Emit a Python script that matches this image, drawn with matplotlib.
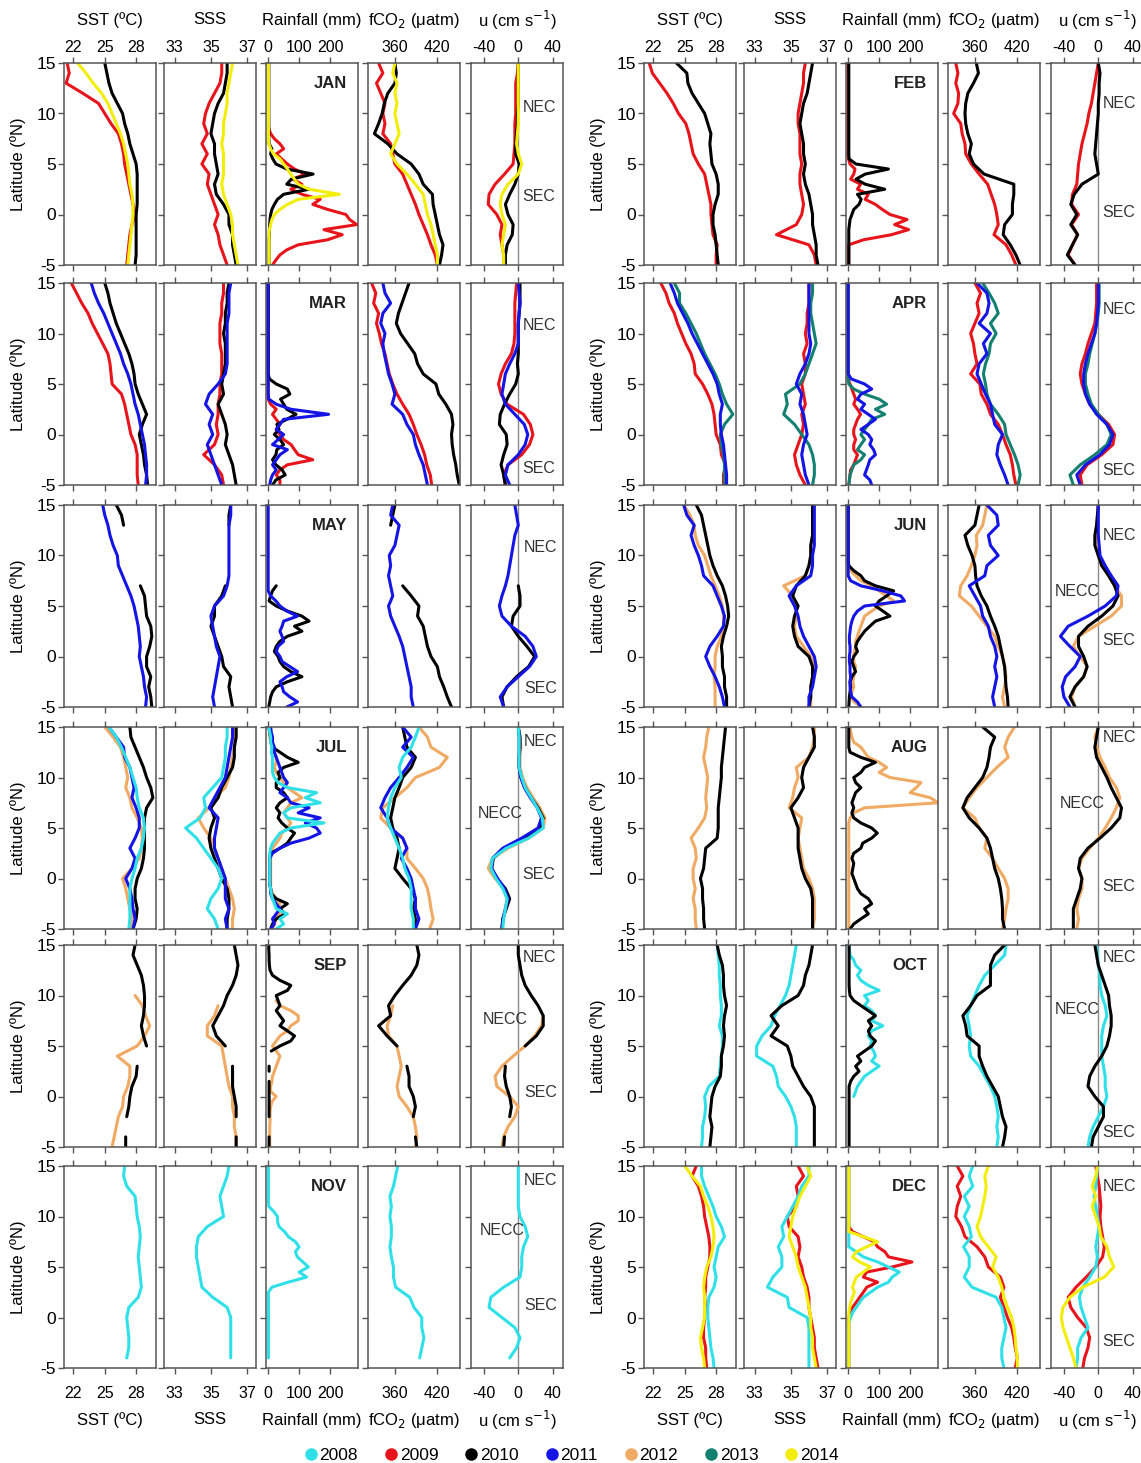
import matplotlib.pyplot as plt
from matplotlib.lines import Line2D

plt.rcParams['font.family'] = ['Liberation Sans', 'DejaVu Sans']
plt.rcParams['axes.unicode_minus'] = False

nan = float('nan')

# sampling latitudes (deg N) of the monthly ship-track profiles
lat = [-5, -4, -3, -2, -1, 0, 1, 2, 3, 4, 5, 6, 7, 8, 9, 10, 11, 12, 13, 14, 15]
lat_rain = [-5, -4.5, -4, -3.5, -3, -2.5, -2, -1.5, -1, -0.5,
            0, 0.5, 1, 1.5, 2, 2.5, 3, 3.5, 4, 4.5,
            5, 5.5, 6, 6.5, 7, 7.5, 8, 8.5, 9, 9.5,
            10, 10.5, 11, 11.5, 12, 12.5, 13, 13.5, 14, 14.5, 15]

years = [2008, 2009, 2010, 2011, 2012, 2013, 2014]
year_colors = {2008: '#30e0e8', 2009: '#e8141c', 2010: '#000000', 2011: '#1414e6',
               2012: '#f0aa64', 2013: '#148070', 2014: '#f2ee0a'}

# ---------------- JAN ----------------
jan_sst = {2009: [27.1, 27.2, 27.3, 27.4, 27.6, 27.9, 27.7, 27.5, 27.3, 27.1, 26.9, 26.8, 26.6, 26.3, 25.6, 25.0, 24.4, 22.9, 21.3, 21.6, 21.4],
           2010: [27.9, 28.0, 28.0, 28.0, 28.0, 28.0, 28.1, 28.1, 28.1, 28.1, 28.0, 27.7, 27.4, 27.2, 26.9, 26.7, 26.2, 25.7, 25.4, 25.2, 25.0],
           2014: [27.2, 27.3, 27.4, 27.5, 27.6, 27.7, 27.7, 27.6, 27.4, 27.3, 27.2, 27.0, 26.8, 26.5, 26.1, 25.7, 25.3, 24.7, 23.9, 23.2, 22.4]}
jan_sss = {2009: [35.9, 35.7, 35.5, 35.4, 35.2, 35.4, 35.2, 35.0, 34.8, 34.9, 34.5, 34.8, 34.5, 34.8, 34.6, 34.7, 34.9, 35.2, 35.5, 35.6, 35.6],
           2010: [36.4, 36.3, 36.2, 36.2, 36.0, 36.0, 35.7, 35.3, 35.2, 35.4, 35.3, 35.2, 35.2, 35.0, 35.1, 35.2, 35.4, 35.7, 35.8, 35.9, 35.9],
           2014: [36.5, 36.4, 36.3, 36.2, 36.2, 36.1, 35.9, 35.7, 35.6, 35.7, 35.7, 35.7, 35.6, 35.7, 35.7, 35.8, 35.9, 35.9, 36.0, 36.1, 36.2]}
jan_rain = {2009: [14, 25, 38, 60, 97, 192, 239, 180, 286, 263,
                   251, 192, 144, 168, 109, 73, 109, 79, 120, 85,
                   62, 44, 26, 50, 38, 20, 8, 2, 1, 1,
                   1, 1, 1, 1, 1, 1, 1, 1, 1, 1,
                   1],
            2010: [3, 3, 3, 3, 3, 3, 4, 4, 5, 6,
                   8, 12, 20, 30, 50, 132, 60, 75, 145, 60,
                   25, 15, 8, 12, 3, 2, 2, 2, 2, 2,
                   2, 2, 2, 2, 2, 2, 2, 2, 2, 2,
                   2],
            2014: [3, 3, 3, 3, 3, 3, 3, 4, 8, 12,
                   20, 38, 62, 97, 230, 132, 97, 85, 73, 62,
                   50, 38, 17, 8, 2, 1, 1, 1, 1, 1,
                   1, 1, 1, 1, 1, 1, 1, 1, 1, 1,
                   1]}
jan_fco2 = {2009: [420, 417, 411, 406, 400, 394, 389, 383, 377, 371, 360, 357, 354, 343, 346, 343, 346, 340, 334, 343, 337],
            2010: [423, 426, 428, 423, 420, 417, 414, 413, 400, 394, 383, 363, 350, 331, 337, 342, 345, 350, 360, 362, 360],
            2014: [420, 420, 417, 414, 411, 406, 403, 400, 389, 377, 363, 354, 360, 366, 363, 360, 363, 360, 363, 357, 360]}
jan_u = {2009: [-17, -17, -19, -21, -19, -25, -35, -34, -27, -16, -6, -5, -4, -4, -4, -3, -3, -3, -3, -1, 0],
         2010: [-15, -15, -13, -7, -6, -12, -15, -10, -4, 0, 1, -3, -3, -2, -1, -1, 0, 0, 0, 0, 0],
         2014: [-17, -17, -19, -17, -15, -19, -21, -19, -12, 0, 4, 0, -2, -1, 0, 0, 0, 0, 0, 0, 0]}

# ---------------- FEB ----------------
feb_sst = {2009: [28.0, 28.0, 28.1, 27.7, 27.6, 27.5, 27.5, 27.3, 27.1, 26.9, 26.3, 25.8, 25.6, 25.4, 25.1, 24.4, 23.9, 23.3, 22.6, 21.9, 21.6],
           2010: [28.2, 28.1, 28.0, 27.9, 27.7, 27.7, 27.9, 28.2, 28.2, 28.0, 27.6, 27.5, 27.4, 27.5, 27.2, 26.9, 26.3, 25.7, 25.3, 25.2, 24.2]}
feb_sss = {2009: [36.4, 36.3, 36.0, 34.2, 35.3, 35.6, 35.7, 35.6, 35.5, 35.5, 35.6, 35.5, 35.5, 35.5, 35.4, 35.4, 35.5, 35.6, 35.7, 35.7, 35.8],
           2010: [36.5, 36.4, 36.4, 36.3, 36.2, 36.2, 36.1, 36.0, 35.8, 35.7, 35.8, 35.7, 35.7, 35.6, 35.5, 35.6, 35.7, 35.9, 36.0, 36.1, 36.2]}
feb_rain = {2009: [2, 2, 2, 2, 2, 50, 140, 195, 150, 190,
                   135, 110, 88, 55, 65, 30, 40, 8, 18, 22,
                   6, 1, 0, 0, 0, 0, 0, 0, 0, 0,
                   0, 0, 0, 0, 0, 0, 0, 0, 0, 0,
                   0],
            2010: [2, 2, 2, 2, 2, 2, 2, 2, 4, 6,
                   12, 18, 35, 42, 30, 118, 55, 25, 55, 130,
                   25, 3, 2, 2, 2, 2, 2, 2, 2, 2,
                   2, 2, 2, 2, 2, 2, 2, 2, 2, 2,
                   2]}
feb_fco2 = {2009: [418, 412, 404, 387, 393, 391, 388, 383, 378, 366, 355, 347, 346, 342, 340, 330, 336, 337, 333, 336, 333],
            2010: [424, 418, 410, 400, 402, 413, 413, 415, 415, 373, 358, 352, 355, 350, 347, 346, 347, 350, 358, 365, 362]}
feb_u = {2009: [-27, -35, -30, -24, -31, -23, -31, -30, -25, -24, -23, -21, -19, -16, -13, -11, -8, -6, -4, -2, 0],
         2010: [-27, -36, -30, -24, -32, -25, -32, -28, -19, 0, -2, -4, -3, -2, -1, 0, 0, 1, 1, 2, 0]}

# ---------------- MAR ----------------
mar_sst = {2009: [28.2, 28.1, 28.1, 28.1, 27.9, 27.5, 27.3, 27.1, 26.9, 26.6, 25.7, 25.6, 25.5, 25.3, 24.8, 24.3, 23.8, 23.4, 22.8, 22.3, 21.8],
           2010: [29.1, 29.0, 28.8, 28.7, 28.5, 28.3, 28.6, 29.0, 28.6, 28.2, 27.9, 27.8, 27.6, 27.3, 26.9, 26.5, 26.1, 25.8, 25.5, 25.3, 25.0],
           2011: [28.9, 29.0, 29.0, 28.9, 28.8, 28.6, 28.4, 28.2, 27.9, 27.7, 27.5, 27.2, 26.8, 26.5, 26.1, 25.7, 25.3, 24.9, 24.4, 24.0, 23.7]}
mar_sss = {2009: [35.7, 35.6, 35.2, 34.6, 35.2, 35.4, 35.3, 35.4, 35.4, 35.5, 35.5, 35.6, 35.6, 35.6, 35.5, 35.5, 35.5, 35.6, 35.6, 35.7, 35.7],
           2010: [36.4, 36.3, 36.2, 36.0, 35.8, 35.9, 35.8, 35.6, 35.4, 35.7, 35.6, 35.7, 35.8, 35.8, 35.8, 35.7, 35.8, 35.8, 35.9, 35.9, 36.0],
           2011: [35.6, 35.4, 35.2, 35.0, 34.8, 35.1, 34.9, 35.1, 34.7, 34.9, 35.4, 35.8, 35.9, 35.9, 35.9, 35.9, 35.9, 36.0, 36.0, 36.0, 36.1]}
mar_rain = {2009: [38, 38, 26, 38, 62, 144, 97, 85, 74, 50,
                   38, 26, 38, 26, 14, 26, 8, 0, 0, 0,
                   0, 0, 0, 0, 0, 0, 0, 0, 0, 0,
                   0, 0, 0, 0, 0, 0, 0, 0, 0, 0,
                   0],
            2010: [14, 25, 55, 45, 25, 14, 25, 28, 50, 38,
                   20, 35, 28, 60, 90, 60, 50, 40, 70, 62,
                   26, 4, 0, 0, 0, 0, 0, 0, 0, 0,
                   0, 0, 0, 0, 0, 0, 0, 0, 0, 0,
                   0],
            2011: [5, 8, 14, 26, 14, 26, 38, 62, 14, 32,
                   50, 26, 38, 50, 195, 73, 26, 2, 0, 0,
                   0, 0, 0, 0, 0, 0, 0, 0, 0, 0,
                   0, 0, 0, 0, 0, 0, 0, 0, 0, 0,
                   0]}
mar_fco2 = {2009: [412, 410, 405, 402, 397, 391, 386, 380, 371, 363, 357, 352, 349, 346, 341, 338, 334, 337, 330, 333, 327],
            2010: [451, 448, 446, 443, 441, 440, 442, 440, 432, 422, 418, 400, 392, 388, 378, 368, 362, 365, 370, 375, 380],
            2011: [406, 403, 400, 394, 389, 386, 377, 371, 356, 360, 356, 351, 348, 345, 343, 346, 340, 343, 354, 346, 343]}
mar_u = {2009: [-15, -17, -12, 4, 13, 17, 14, 6, -13, -20, -23, -20, -15, -8, -5, -4, -4, -4, -4, -3, -2],
         2010: [-15, -17, -20, -17, -13, -14, -22, -21, -16, -10, -3, 0, -1, 0, 0, 0, 0, 1, 2, 2, 2],
         2011: [-10, -15, -12, 0, 8, 11, 7, -4, -15, -19, -17, -15, -10, -4, 0, 0, 0, 1, 2, 1, 0]}

# ---------------- APR ----------------
apr_sst = {2009: [28.7, 28.7, 28.9, 28.5, 28.4, 28.0, 27.9, 27.8, 27.6, 27.2, 26.7, 26.0, 25.9, 25.6, 25.1, 24.7, 24.3, 24.0, 23.5, 23.2, 22.7],
           2013: [28.8, 28.8, 28.8, 28.7, 28.5, 28.4, 28.8, 29.6, 29.0, 28.6, 28.3, 27.9, 27.4, 26.9, 26.5, 26.1, 25.6, 25.1, 24.5, 24.5, 24.0],
           2011: [29.0, 29.0, 28.9, 28.8, 28.7, 28.5, 28.4, 28.4, 28.6, 28.3, 28.1, 27.7, 27.2, 26.7, 26.2, 25.7, 25.3, 24.8, 24.3, 24.0, 23.6]}
apr_sss = {2009: [35.8, 35.5, 35.3, 35.2, 35.4, 35.6, 35.7, 35.6, 35.8, 35.7, 35.6, 35.8, 35.8, 35.7, 35.9, 35.8, 35.9, 35.9, 36.0, 36.0, 36.0],
           2013: [36.2, 36.3, 36.3, 36.2, 36.0, 35.6, 35.2, 34.6, 34.8, 34.7, 35.5, 35.8, 36.0, 36.2, 36.4, 36.3, 36.2, 36.1, 36.1, 36.2, 36.2],
           2011: [36.0, 35.8, 35.7, 35.6, 35.7, 35.9, 35.8, 35.7, 35.5, 35.6, 35.3, 35.5, 35.8, 36.0, 36.1, 36.0, 36.0, 36.0, 36.0, 36.0, 36.0]}
apr_rain = {2009: [2, 4, 6, 8, 18, 24, 30, 18, 18, 24,
                   18, 18, 24, 30, 40, 30, 18, 24, 18, 12,
                   6, 0, 0, 0, 0, 0, 0, 0, 0, 0,
                   0, 0, 0, 0, 0, 0, 0, 0, 0, 0,
                   0],
            2013: [2, 4, 6, 12, 18, 41, 53, 30, 41, 53,
                   41, 53, 65, 76, 118, 88, 124, 100, 53, 18,
                   2, 0, 0, 0, 0, 0, 0, 0, 0, 0,
                   0, 0, 0, 0, 0, 0, 0, 0, 0, 0,
                   0],
            2011: [76, 70, 53, 59, 65, 70, 88, 82, 70, 76,
                   65, 41, 65, 88, 65, 41, 53, 30, 41, 76,
                   53, 10, 0, 0, 0, 0, 0, 0, 0, 0,
                   0, 0, 0, 0, 0, 0, 0, 0, 0, 0,
                   0]}
apr_fco2 = {2009: [418, 415, 413, 410, 404, 399, 393, 382, 377, 369, 367, 354, 363, 360, 358, 354, 360, 366, 363, 368, 360],
            2013: [421, 424, 421, 416, 410, 404, 402, 393, 382, 377, 375, 372, 375, 380, 382, 390, 382, 393, 388, 380, 371],
            2011: [407, 402, 396, 391, 393, 399, 388, 385, 382, 375, 369, 363, 366, 377, 372, 382, 366, 377, 380, 377, 363]}
apr_u = {2009: [-19, -21, -13, 4, 17, 19, 12, 0, -10, -15, -19, -21, -19, -15, -12, -8, -4, -3, -2, -2, -2],
         2013: [-29, -33, -21, -4, 10, 15, 10, 0, -8, -12, -15, -15, -12, -10, -7, -4, -2, 0, 1, 1, 1],
         2011: [-21, -25, -15, 2, 13, 17, 10, -2, -10, -15, -17, -17, -15, -12, -8, -4, -2, -1, 0, 0, 0]}

# ---------------- MAY ----------------
may_sst = {2010: [29.5, 29.4, 29.2, 29.4, 29.0, 29.0, 29.3, 29.5, 29.4, 29.0, 28.9, 28.8, 28.4, nan, nan, nan, nan, nan, 26.8, 26.6, 26.1],
           2011: [28.9, 29.0, 28.8, 28.7, 28.5, 28.3, 28.4, 28.3, 28.2, 28.0, 27.8, 27.5, 27.1, 26.7, 26.3, 26.2, 25.8, 25.5, 25.3, 25.0, 24.8]}
may_sss = {2010: [36.2, 36.1, 36.0, 36.1, 35.7, 35.6, 35.4, 35.2, 35.0, 35.2, 35.2, 35.6, 35.8, nan, nan, nan, nan, nan, 36.0, 36.0, 36.1],
           2011: [35.2, 35.1, 35.2, 35.3, 35.4, 35.5, 35.3, 35.2, 35.1, 35.0, 35.2, 35.7, 35.9, 36.0, 36.0, 36.0, 36.0, 36.0, 36.0, 36.1, 36.1]}
may_rain = {2010: [2, 5, 8, 14, 26, 62, 109, 73, 50, 38,
                   32, 20, 26, 38, 62, 109, 85, 132, 109, 62,
                   26, 3, 8, 14, 26, nan, nan, nan, nan, nan,
                   nan, nan, nan, nan, nan, nan, nan, nan, nan, nan,
                   nan],
            2011: [60, 95, 70, 50, 45, 38, 60, 95, 70, 45,
                   38, 26, 32, 50, 45, 38, 45, 50, 95, 60,
                   38, 25, 8, 0, 0, 0, 0, 0, 0, 0,
                   0, 0, 0, 0, 0, 0, 0, 0, 0, 0,
                   0]}
may_fco2 = {2010: [440, 434, 429, 423, 420, 411, 406, 403, 400, 392, 394, 383, 371, nan, nan, nan, nan, nan, 354, 357, 360],
            2011: [386, 383, 383, 380, 377, 374, 371, 366, 360, 354, 351, 357, 354, 351, 354, 352, 360, 363, 366, 354, 357]}
may_u = {2010: [-17, -19, -13, -2, 12, 19, 10, 0, -8, -6, 2, 2, 0, nan, nan, nan, nan, nan, nan, nan, nan],
         2011: [-17, -21, -13, 0, 13, 21, 17, 8, -8, -19, -22, -19, -15, -12, -10, -8, -6, -4, 0, -2, -4]}

# ---------------- JUN ----------------
jun_sst = {2012: [27.9, 27.9, 27.9, 27.8, 27.9, 27.9, 28.1, 28.5, 28.7, 28.7, 28.6, 28.3, 27.9, 27.5, 27.2, 26.9, 26.3, 26.0, 25.9, 25.5, 24.9],
           2010: [29.0, 29.0, 28.8, 28.8, 28.6, 28.6, 28.5, 28.7, 29.0, 29.2, 29.1, 28.9, 28.6, 28.1, 27.7, 27.4, 27.2, 27.0, 26.8, 26.6, 26.1],
           2011: [28.8, 28.6, 28.3, 27.9, 27.4, 27.0, 27.4, 28.1, 28.7, 28.8, 28.5, 28.1, 27.7, 26.8, 26.6, 26.3, 25.9, 25.6, 25.9, 25.2, 24.9]}
jun_sss = {2012: [36.1, 36.1, 36.1, 36.2, 36.3, 36.1, 35.7, 35.3, 35.2, 35.3, 35.3, 35.1, 34.6, 35.8, 36.0, 36.1, 36.1, 36.2, 36.2, 36.2, 36.2],
           2010: [36.0, 36.1, 36.1, 36.2, 36.2, 36.0, 35.4, 35.2, 35.1, 35.2, 35.4, 35.1, 35.3, 35.8, 36.0, 36.1, 36.1, 36.2, 36.2, 36.2, 36.2],
           2011: [36.0, 36.0, 36.2, 36.3, 36.4, 36.3, 36.0, 35.7, 35.5, 35.4, 35.2, 34.9, 35.3, 36.1, 36.2, 36.2, 36.3, 36.3, 36.3, 36.3, 36.3]}
jun_rain = {2012: [41, 20, 8, 12, 18, 15, 18, 20, 24, 18,
                   18, 20, 24, 24, 30, 35, 41, 47, 53, 76,
                   100, 147, 124, 100, 76, 41, 24, 8, 0, 0,
                   0, 0, 0, 0, 0, 0, 0, 0, 0, 0,
                   0],
            2010: [2, 3, 4, 6, 8, 6, 12, 24, 18, 12,
                   18, 30, 24, 30, 41, 53, 70, 88, 135, 112,
                   88, 100, 124, 147, 88, 53, 41, 18, 2, 0,
                   0, 0, 0, 0, 0, 0, 0, 0, 0, 0,
                   0],
            2011: [41, 30, 12, 8, 6, 6, 8, 6, 6, 4,
                   4, 6, 6, 4, 4, 6, 8, 12, 18, 30,
                   53, 182, 170, 112, 41, 8, 0, 0, 0, 0,
                   0, 0, 0, 0, 0, 0, 0, 0, 0, 0,
                   0]}
jun_fco2 = {2012: [402, 399, 402, 404, 402, 399, 393, 388, 377, 366, 355, 338, 340, 349, 355, 360, 363, 362, 371, 374, 377],
            2010: [407, 406, 404, 403, 402, 399, 396, 393, 388, 382, 377, 369, 363, 361, 360, 356, 350, 346, 360, 363, 366],
            2011: [388, 385, 388, 391, 388, 391, 388, 382, 379, 371, 368, 360, 352, 374, 377, 393, 382, 379, 393, 391, 377]}
jun_u = {2012: [-27, -31, -27, -17, -13, -21, -29, -23, -4, 15, 27, 27, 19, 12, 4, 0, -3, -3, -2, -1, 0],
         2010: [-27, -33, -27, -17, -13, -17, -23, -23, -12, 4, 17, 23, 19, 12, 4, 0, -4, -4, -2, -1, 0],
         2011: [-33, -40, -42, -38, -27, -21, -33, -44, -35, -12, 8, 21, 23, 15, 8, 2, 1, 0, 0, 0, 0]}

# ---------------- JUL ----------------
jul_sst = {2012: [27.4, 27.6, 27.4, 27.2, 27.0, 26.7, 27.6, 28.3, 28.5, 28.6, 28.5, 28.1, 27.6, 27.4, 27.0, 27.2, 27.0, 26.8, 26.5, 25.8, 25.0],
           2010: [27.7, 28.0, 28.1, 27.9, 27.9, 28.1, 28.5, 28.7, 28.8, 28.8, 28.8, 28.8, 29.0, 29.6, 29.4, 29.0, 28.7, 28.3, 27.9, 27.5, 27.4],
           2011: [27.7, 27.9, 27.7, 27.6, 27.4, 27.0, 27.6, 27.9, 27.4, 27.9, 28.3, 28.3, 28.0, 27.6, 27.8, 27.6, 27.4, 26.9, 26.8, 26.1, 25.4],
           2008: [27.3, 27.4, 27.4, 27.4, 27.4, 27.6, 27.9, 28.1, 28.5, 28.7, 28.8, 28.7, 28.3, 28.1, 28.0, 27.7, 27.4, 27.0, 26.6, 26.1, 25.4]}
jul_sss = {2012: [36.2, 36.2, 36.3, 36.2, 36.0, 35.8, 35.6, 35.4, 35.2, 35.0, 34.6, 34.3, 34.9, 35.2, 35.8, 36.0, 36.1, 36.2, 36.3, 36.3, 36.4],
           2010: [35.9, 35.9, 36.0, 36.0, 35.9, 35.6, 35.4, 35.2, 35.0, 34.9, 35.0, 35.2, 35.0, 35.4, 35.6, 35.9, 36.2, 36.3, 36.3, 36.4, 36.4],
           2011: [35.9, 35.8, 36.0, 35.8, 35.8, 35.8, 35.6, 35.4, 35.2, 35.2, 35.3, 35.4, 34.9, 35.2, 35.5, 35.8, 35.9, 36.0, 36.1, 36.2, 36.2],
           2008: [35.4, 35.2, 34.8, 35.0, 35.4, 35.6, 35.4, 35.0, 34.6, 34.2, 33.6, 34.4, 34.7, 34.6, 35.1, 35.6, 35.7, 35.8, 35.8, 35.9, 35.9]}
jul_rain = {2012: [14, 20, 26, 38, 32, 38, 26, 14, 8, 8,
                   8, 8, 8, 8, 8, 8, 14, 26, 38, 44,
                   62, 73, 62, 50, 62, 73, 109, 85, 62, 50,
                   38, 26, 20, 26, 26, 20, 12, 8, 5, 4,
                   4],
            2010: [8, 14, 26, 55, 38, 62, 26, 10, 8, 5,
                   5, 5, 5, 5, 5, 8, 38, 62, 73, 85,
                   62, 44, 32, 38, 26, 38, 62, 50, 26, 26,
                   38, 32, 50, 97, 62, 38, 14, 10, 8, 5,
                   2],
            2011: [8, 20, 14, 26, 38, 26, 14, 8, 8, 5,
                   5, 5, 5, 5, 5, 14, 38, 73, 132, 168,
                   156, 120, 168, 97, 132, 73, 62, 38, 50, 62,
                   50, 44, 38, 32, 26, 20, 20, 14, 14, 10,
                   8],
            2008: [26, 50, 38, 62, 26, 20, 14, 10, 8, 5,
                   5, 5, 5, 5, 5, 5, 8, 14, 26, 38,
                   73, 180, 62, 50, 73, 168, 120, 156, 62, 32,
                   20, 14, 14, 14, 14, 10, 12, 8, 8, 5,
                   2]}
jul_fco2 = {2012: [409, 414, 411, 409, 406, 400, 389, 377, 377, 371, 354, 340, 343, 360, 377, 389, 423, 434, 411, 406, 394],
            2010: [389, 389, 386, 389, 383, 371, 360, 363, 366, 363, 357, 354, 357, 360, 366, 371, 383, 389, 377, 374, 371],
            2011: [389, 394, 389, 389, 386, 383, 377, 369, 377, 371, 354, 349, 340, 346, 354, 366, 377, 386, 371, 383, 371],
            2008: [386, 386, 383, 383, 383, 380, 374, 371, 366, 360, 354, 349, 351, 354, 360, 369, 366, 371, 383, 389, 394]}
jul_u = {2012: [-19, -18, -15, -13, -17, -27, -35, -30, -12, 12, 29, 31, 25, 17, 10, 5, 2, 2, 3, 2, 0],
         2010: [-19, -18, -14, -10, -15, -25, -31, -29, -17, 6, 25, 29, 23, 15, 8, 3, 1, 1, 2, 2, 0],
         2011: [-19, -18, -15, -12, -16, -24, -31, -30, -18, 4, 23, 27, 22, 14, 7, 3, 1, 1, 1, 1, 0],
         2008: [-18, -17, -15, -13, -18, -26, -32, -30, -14, 12, 29, 28, 22, 15, 8, 4, 1, 1, 1, 1, 0]}

# ---------------- AUG ----------------
aug_sst = {2012: [26.1, 26.0, 26.0, 25.8, 26.0, 25.8, 25.8, 26.1, 26.0, 25.6, 26.3, 26.9, 27.1, 27.0, 27.1, 27.2, 27.0, 26.8, 27.0, 27.1, 27.3],
           2010: [26.9, 26.8, 26.8, 26.7, 26.7, 26.5, 26.8, 26.9, 27.0, 28.1, 28.2, 28.2, 28.2, 28.3, 28.4, 28.5, 28.5, 28.6, 28.7, 28.8, 28.9]}
aug_sss = {2012: [36.2, 36.3, 36.3, 36.3, 36.2, 36.0, 35.7, 35.6, 35.5, 35.4, 35.5, 35.6, 34.9, 35.1, 35.2, 35.4, 35.3, 36.0, 36.2, 36.3, 36.3],
           2010: [36.2, 36.2, 36.2, 36.2, 36.1, 35.8, 35.6, 35.5, 35.4, 35.4, 35.4, 35.2, 35.0, 35.4, 35.7, 35.6, 35.7, 36.0, 36.3, 36.3, 36.2]}
aug_rain = {2012: [2, 2, 2, 2, 2, 2, 2, 2, 2, 2,
                   2, 2, 2, 2, 2, 2, 2, 2, 2, 2,
                   2, 2, 6, 18, 53, 290, 265, 200, 220, 235,
                   135, 100, 124, 100, 65, 53, 41, 18, 12, 8,
                   6],
            2010: [6, 18, 41, 65, 53, 76, 65, 41, 30, 24,
                   18, 12, 15, 18, 12, 18, 41, 47, 76, 94,
                   76, 41, 18, 12, 18, 12, 18, 24, 41, 24,
                   18, 41, 53, 88, 41, 6, 2, 2, 2, 2,
                   2]}
aug_fco2 = {2012: [399, 402, 404, 407, 407, 402, 393, 385, 374, 377, 366, 360, 343, 352, 363, 377, 391, 407, 402, 407, 416],
            2010: [402, 399, 399, 398, 396, 393, 388, 385, 382, 377, 366, 352, 343, 349, 360, 371, 377, 380, 382, 388, 371]}
aug_u = {2012: [-25, -23, -25, -23, -19, -19, -23, -19, -10, 0, 8, 15, 21, 25, 21, 13, 8, 2, -2, -4, 0],
         2010: [-29, -29, -29, -25, -21, -19, -23, -21, -12, 2, 15, 25, 27, 21, 15, 10, 4, -2, -4, -2, 0]}

# ---------------- SEP ----------------
sep_sst = {2012: [25.7, 25.9, 26.1, 26.3, 26.7, 26.8, 27.2, 27.4, 27.4, 26.2, 28.1, 28.8, 29.3, 28.9, 28.6, 27.9, nan, nan, nan, nan, nan],
           2010: [27.0, 27.0, nan, 27.1, 27.3, 27.4, 27.6, 28.0, 28.1, nan, 29.0, 28.7, 28.5, 28.7, 28.8, 28.8, 28.7, 28.5, 28.1, 27.7, 27.9]}
sep_sss = {2012: [36.4, 36.4, 36.3, 36.3, 36.2, 36.2, 36.0, 35.9, 35.8, 35.7, 35.6, 34.8, 34.8, 35.2, 35.4, nan, nan, nan, nan, nan, nan],
           2010: [36.4, 36.4, nan, 36.4, 36.4, 36.3, 36.2, 36.2, 36.2, nan, 35.8, 35.3, 35.1, 35.4, 35.7, 35.9, 36.2, 36.4, 36.5, 36.4, 36.3]}
sep_rain = {2012: [5, 5, 5, 5, 5, 6, 6, 6, 8, 12,
                   26, 8, 8, 12, 14, 20, 26, 32, 38, 26,
                   14, 26, 38, 62, 73, 97, 97, 73, 38, 26,
                   nan, nan, nan, nan, nan, nan, nan, nan, nan, nan,
                   nan],
            2010: [3, 3, 3, nan, nan, nan, 3, 3, 3, 3,
                   3, 3, 3, 3, nan, 3, 3, nan, nan, 10,
                   38, 73, 85, 62, 38, 50, 38, 26, 38, 32,
                   26, 62, 73, 38, 14, 6, 4, 3, 3, 2,
                   2]}
sep_fco2 = {2012: [389, 391, 389, 386, 377, 366, 363, 366, 369, 366, 363, 351, 349, 354, 357, nan, nan, nan, nan, nan, nan],
            2010: [391, 389, nan, 386, 389, 386, 380, 380, 377, nan, 363, 349, 337, 354, 351, 360, 371, 383, 391, 394, 391]}
sep_u = {2012: [-19, -17, -12, -4, 0, -10, -25, -27, -19, -6, 8, 19, 27, 29, nan, nan, nan, nan, nan, nan, nan],
         2010: [-17, -16, nan, -10, -8, -10, -14, -16, -15, nan, 8, 21, 29, 29, 23, 15, 8, 4, 2, 0, 0]}

# ---------------- OCT ----------------
oct_sst = {2008: [26.6, 26.7, 26.7, 26.9, 27.0, 26.9, 27.3, 28.3, 28.4, 28.5, 28.6, 28.6, 28.3, 28.5, 28.5, 28.4, 28.4, 28.3, 28.3, 28.2, 28.1],
           2010: [27.4, 27.5, 27.6, 27.4, 27.5, 27.6, 27.9, 28.4, 28.5, 28.5, 28.7, 28.8, 28.7, 28.8, 29.0, 28.8, 28.7, 28.7, 28.6, 28.3, 28.1]}
oct_sss = {2008: [35.3, 35.3, 35.3, 35.2, 35.0, 34.7, 34.3, 34.2, 34.0, 33.1, 33.1, 33.4, 33.9, 34.1, 34.4, 34.7, 34.9, 35.0, 35.1, 35.2, 35.3],
           2010: [36.3, 36.3, 36.3, 36.3, 36.3, 36.1, 35.7, 35.4, 35.1, 35.0, 34.8, 33.9, 34.3, 33.9, 34.5, 35.4, 35.7, 35.8, 36.0, 36.1, 36.2]}
oct_rain = {2008: [nan, nan, nan, nan, nan, nan, nan, nan, nan, nan,
                   18, 24, 30, 41, 53, 76, 100, 76, 88, 82,
                   71, 76, 65, 76, 112, 76, 88, 76, 53, 65,
                   53, 100, 65, 41, 30, 41, 24, 18, 6, 4,
                   3],
            2010: [3, 3, 3, 3, 3, 3, 3, 3, 3, 3,
                   3, 3, 3, 8, 18, 35, 24, 41, 30, 53,
                   76, 88, 71, 65, 76, 65, 88, 65, 41, 18,
                   6, 4, 3, 3, 3, 3, 3, 3, 3, 3,
                   3]}
oct_fco2 = {2008: [391, 393, 391, 393, 391, 388, 382, 374, 366, 354, 352, 354, 352, 349, 354, 360, 366, 374, 388, 402, 404],
            2010: [399, 402, 404, 399, 396, 393, 385, 377, 371, 366, 366, 349, 347, 343, 354, 363, 382, 382, 382, 388, 402]}
oct_u = {2008: [-12, -10, -6, 0, 6, 10, 8, 8, 6, 4, 4, 4, 6, 10, 8, 4, 2, 2, 0, -1, -2],
         2010: [-8, -6, 0, 6, 6, -4, -12, -10, -4, 4, 10, 13, 15, 15, 13, 12, 8, 4, 0, -2, -4]}

# ---------------- NOV ----------------
nov_sst = {2008: [nan, 27.1, 27.3, 27.3, 27.2, 27.1, 27.3, 28.2, 28.5, 28.4, 28.3, 28.2, 28.3, 28.4, 28.3, 28.1, 28.0, 27.9, 27.1, 26.8, 26.9]}
nov_sss = {2008: [nan, 36.1, 36.1, 36.1, 36.1, 36.1, 35.9, 35.1, 34.5, 34.4, 34.3, 34.2, 34.2, 34.3, 34.8, 35.7, 35.6, 35.5, 35.7, 35.9, 36.0]}
nov_rain = {2008: [nan, nan, 1, 1, 1, 1, 1, 1, 1, 1,
                   1, 1, 1, 1, 1, 1, 12, 65, 124, 100,
                   130, 112, 94, 88, 100, 88, 65, 53, 35, 30,
                   30, 18, 2, 1, 1, 1, 1, 1, 1, 1,
                   1]}
nov_fco2 = {2008: [nan, 395, 398, 401, 398, 398, 387, 381, 361, 358, 358, 355, 353, 355, 355, 353, 355, 353, 358, 361, 364]}
nov_u = {2008: [nan, -10, -2, 2, -4, -19, -34, -32, -17, 2, 4, 4, 6, 11, 8, 2, 0, 0, 0, 0, 0]}

# ---------------- DEC ----------------
dec_sst = {2009: [27.1, 27.0, 27.0, 26.8, 26.8, 26.9, 27.0, 26.9, 27.0, 27.0, 27.2, 27.4, 27.4, 27.3, 27.1, 26.9, 26.8, 26.6, 26.3, 25.7, 26.1],
           2008: [27.8, 27.7, 27.5, 27.4, 27.3, 27.2, 27.2, 27.3, 27.8, 28.0, 27.8, 28.0, 28.2, 28.8, 28.5, 28.0, 27.7, 27.3, 26.9, 26.6, 26.6],
           2014: [26.9, 26.8, 26.6, 26.5, 26.7, 26.9, 26.9, 26.9, 26.8, 26.9, 27.1, 27.5, 27.7, 27.8, 27.7, 27.5, 27.2, 26.8, 26.5, 25.7, 25.0]}
dec_sss = {2009: [36.5, 36.4, 36.3, 36.3, 36.2, 36.1, 36.0, 36.0, 35.9, 35.7, 35.6, 35.4, 35.5, 35.4, 34.9, 34.8, 35.3, 35.4, 35.3, 35.7, 35.4],
           2008: [36.0, 36.0, 36.0, 36.0, 36.0, 35.9, 34.9, 34.8, 33.7, 34.0, 34.5, 34.5, 34.3, 34.6, 34.5, 34.8, 35.1, 35.4, 35.6, 36.0, 36.0],
           2014: [36.4, 36.3, 36.2, 36.2, 36.1, 36.1, 36.0, 35.9, 35.8, 35.6, 35.4, 35.3, 35.1, 34.9, 35.0, 35.1, 35.3, 35.5, 35.8, 36.1, 35.9]}
dec_rain = {2009: [2, 2, 2, 2, 2, 2, 2, 2, 2, 2,
                   2, 8, 14, 26, 37, 49, 60, 95, 49, 60,
                   142, 206, 130, 119, 95, 84, 49, 14, 2, 2,
                   2, 2, 2, 2, 2, 2, 2, 2, 2, 2,
                   2],
            2008: [2, 2, 2, 2, 2, 2, 2, 2, 2, 2,
                   8, 14, 26, 37, 49, 72, 95, 130, 142, 165,
                   130, 95, 49, 26, 2, 2, 2, 2, 2, 2,
                   2, 2, 2, 2, 2, 2, 2, 2, 2, 2,
                   2],
            2014: [2, 2, 2, 2, 2, 2, 2, 2, 2, 2,
                   2, 2, 5, 8, 14, 20, 14, 20, 26, 49,
                   72, 37, 14, 26, 60, 95, 49, 2, 2, 2,
                   2, 2, 2, 2, 2, 2, 2, 2, 2, 2,
                   2]}
dec_fco2 = {2009: [417, 420, 417, 415, 412, 406, 401, 396, 401, 396, 379, 374, 363, 346, 341, 333, 335, 340, 335, 343, 335],
            2008: [401, 398, 398, 401, 404, 401, 398, 390, 356, 345, 352, 352, 344, 355, 352, 345, 352, 345, 357, 352, 357],
            2014: [420, 420, 418, 417, 415, 412, 406, 401, 398, 393, 385, 390, 379, 368, 363, 368, 371, 374, 376, 374, 379]}
dec_u = {2009: [-18, -16, -12, -10, -14, -24, -32, -35, -26, -14, -3, 5, 7, 5, 3, 2, 3, 2, 1, -1, -3],
         2008: [-26, -24, -24, -20, -12, -16, -20, -22, -18, -10, -3, -1, -3, -1, 1, -1, -3, -5, -3, -2, -1],
         2014: [-26, -29, -33, -37, -41, -43, -41, -33, -18, 7, 18, 13, 10, 3, 1, -3, -7, -3, -7, -3, -1]}

# month name, the five profile sets, current labels (text, x, y in axes fraction)
months = [
    ('JAN', jan_sst, jan_sss, jan_rain, jan_fco2, jan_u, [('NEC', 0.74, 0.78), ('SEC', 0.74, 0.34)]),
    ('FEB', feb_sst, feb_sss, feb_rain, feb_fco2, feb_u, [('NEC', 0.74, 0.80), ('SEC', 0.74, 0.26)]),
    ('MAR', mar_sst, mar_sss, mar_rain, mar_fco2, mar_u, [('NEC', 0.74, 0.79), ('SEC', 0.74, 0.08)]),
    ('APR', apr_sst, apr_sss, apr_rain, apr_fco2, apr_u, [('NEC', 0.74, 0.87), ('SEC', 0.74, 0.07)]),
    ('MAY', may_sst, may_sss, may_rain, may_fco2, may_u, [('NEC', 0.76, 0.79), ('SEC', 0.76, 0.09)]),
    ('JUN', jun_sst, jun_sss, jun_rain, jun_fco2, jun_u, [('NEC', 0.74, 0.85), ('NECC', 0.29, 0.57), ('SEC', 0.74, 0.33)]),
    ('JUL', jul_sst, jul_sss, jul_rain, jul_fco2, jul_u, [('NEC', 0.76, 0.93), ('NECC', 0.32, 0.57), ('SEC', 0.74, 0.27)]),
    ('AUG', aug_sst, aug_sss, aug_rain, aug_fco2, aug_u, [('NEC', 0.74, 0.95), ('NECC', 0.34, 0.62), ('SEC', 0.74, 0.21)]),
    ('SEP', sep_sst, sep_sss, sep_rain, sep_fco2, sep_u, [('NEC', 0.74, 0.94), ('NECC', 0.37, 0.63), ('SEC', 0.76, 0.27)]),
    ('OCT', oct_sst, oct_sss, oct_rain, oct_fco2, oct_u, [('NEC', 0.74, 0.94), ('NECC', 0.29, 0.68), ('SEC', 0.74, 0.07)]),
    ('NOV', nov_sst, nov_sss, nov_rain, nov_fco2, nov_u, [('NEC', 0.76, 0.93), ('NECC', 0.34, 0.68), ('SEC', 0.76, 0.31)]),
    ('DEC', dec_sst, dec_sss, dec_rain, dec_fco2, dec_u, [('NEC', 0.74, 0.90), ('SEC', 0.74, 0.13)]),
]

var_titles = ['SST (ºC)', 'SSS', 'Rainfall (mm)', 'fCO$_2$ (μatm)', 'u (cm s$^{-1}$)']
var_xlim = [(21.1, 29.9), (32.4, 37.5), (-7, 290), (322, 452), (-55, 52)]
var_xticks = [[22, 25, 28], [33, 35, 37], [0, 100, 200], [360, 420], [-40, 0, 40]]

# layout in pixels
W, H = 1141, 1463
panel_x = [64, 164, 266, 368, 471]
panel_w = 92
row_top = [63, 283, 505, 727, 945, 1166]
panel_h = 202
group_dx = [0, 580]
frame_col = '#555555'

fig = plt.figure(figsize=(W / 100, H / 100), dpi=100)

for i, (name, sst, sss, rain, fco2, u, currents) in enumerate(months):
    g, r = i % 2, i // 2
    for k, data in enumerate([sst, sss, rain, fco2, u]):
        x0 = group_dx[g] + panel_x[k]
        ax = fig.add_axes([x0 / W, 1 - (row_top[r] + panel_h) / H, panel_w / W, panel_h / H])
        y = lat_rain if k == 2 else lat
        if k == 4:
            ax.axvline(0, color='#8a8a8a', lw=1.0, zorder=1)
        for yr, vals in data.items():
            ax.plot(vals, y, color=year_colors[yr], lw=2.2, zorder=2,
                    solid_joinstyle='round', solid_capstyle='round')
        ax.set_xlim(*var_xlim[k])
        ax.set_ylim(-5, 15)
        ax.set_xticks(var_xticks[k])
        ax.set_yticks([-5, 0, 5, 10, 15])
        ax.tick_params(direction='out', length=4, width=1, color=frame_col,
                       top=True, bottom=True, left=True, right=False,
                       labeltop=(r == 0), labelbottom=(r == 5), labelleft=(k == 0),
                       labelsize=11.5, pad=2)
        if r == 5:
            ax.tick_params(axis='x', pad=9)
        ax.tick_params(axis='y', labelsize=12.5)
        for s in ax.spines.values():
            s.set_color(frame_col)
            s.set_linewidth(1.1)
        if k == 2:
            ax.text(0.88, 0.90, name, transform=ax.transAxes, ha='right', va='center',
                    fontsize=12, fontweight='bold', color='#222222')
        if k == 4:
            for txt, tx, ty in currents:
                ax.text(tx, ty, txt, transform=ax.transAxes, ha='center', va='center',
                        fontsize=11.5, color='#333333')
        cx = (x0 + panel_w / 2) / W
        if r == 0:
            fig.text(cx, 1 - 20 / H, var_titles[k], ha='center', va='center', fontsize=12)
        if r == 5:
            fig.text(cx, 1 - 1420 / H, var_titles[k], ha='center', va='center', fontsize=12)
    # latitude label for the row
    fig.text((18 + group_dx[g]) / W, 1 - (row_top[r] + panel_h / 2) / H, 'Latitude (ºN)',
             rotation=90, ha='center', va='center', fontsize=12)

handles = [Line2D([], [], marker='o', ls='', color=year_colors[yr], markersize=8) for yr in years]
fig.legend(handles, [str(yr) for yr in years], loc='lower center', bbox_to_anchor=(0.5, -0.011),
           ncol=7, frameon=False, fontsize=12.5, handletextpad=0.0, columnspacing=1.4,
           handlelength=1.0)

fig.savefig('out.png', dpi=100)
